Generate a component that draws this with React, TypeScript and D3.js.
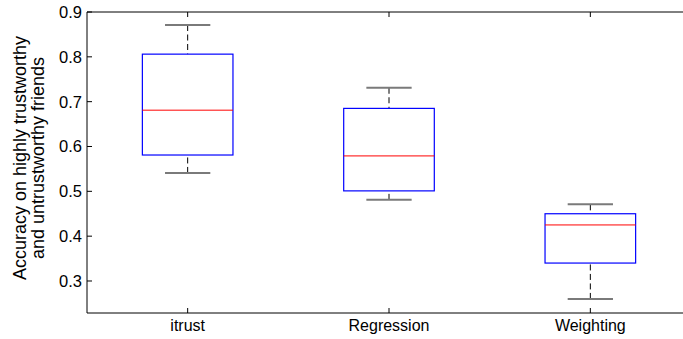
import React from "react";
import * as d3 from "d3";

const categories = ["itrust", "Regression", "Weighting"];
const lowerWhisker = [0.541, 0.481, 0.26];
const q1 = [0.581, 0.501, 0.34];
const medians = [0.681, 0.579, 0.425];
const q3 = [0.806, 0.685, 0.45];
const upperWhisker = [0.871, 0.731, 0.471];
const yTicks = [0.3, 0.4, 0.5, 0.6, 0.7, 0.8, 0.9];
const yLabelLines = ["Accuracy on highly trustworthy", "and untrustworthy friends"];

const W = 683;
const H = 339;
const font = "'Liberation Sans', Arial, Helvetica, sans-serif";

export default function App() {
  const x = d3.scaleLinear().domain([0.5, 3.5]).range([87, 691]);
  const y = d3.scaleLinear().domain([0.2286, 0.9]).range([313, 12]);
  const boxHalf = 0.225;
  const capHalf = 0.1125;
  const [x0, x1] = x.range();
  const [yb, yt] = y.range();
  return (
    <svg width={W} height={H} style={{ position: "absolute", left: 0, top: 0, background: "#fff" }}>
      {/* axes box */}
      <line x1={x0} x2={x1} y1={yb} y2={yb} stroke="#000" strokeWidth={1} />
      <line x1={x0} x2={x1} y1={yt} y2={yt} stroke="#000" strokeWidth={1} />
      <line x1={x0} x2={x0} y1={yt} y2={yb} stroke="#000" strokeWidth={1} />
      <line x1={x1} x2={x1} y1={yt} y2={yb} stroke="#000" strokeWidth={1} />
      {yTicks.map((t) => (
        <g key={t}>
          <line x1={x0} x2={x0 + 5} y1={y(t)} y2={y(t)} stroke="#000" />
          <line x1={x1} x2={x1 - 5} y1={y(t)} y2={y(t)} stroke="#000" />
          <text x={x0 - 5} y={y(t)} dy="0.36em" textAnchor="end" fontSize={16.5} fontFamily={font} fill="#000">
            {d3.format(".1f")(t)}
          </text>
        </g>
      ))}
      {categories.map((c, i) => {
        const cx = x(i + 1);
        return (
          <g key={c}>
            <line x1={cx} x2={cx} y1={yb} y2={yb - 5} stroke="#000" />
            <line x1={cx} x2={cx} y1={yt} y2={yt + 5} stroke="#000" />
            <text x={cx} y={331} textAnchor="middle" fontSize={16} fontFamily={font} fill="#000">
              {c}
            </text>
            {/* whiskers */}
            <line x1={cx} x2={cx} y1={y(upperWhisker[i])} y2={y(q3[i])} stroke="#000" strokeDasharray="6,3.5" />
            <line x1={cx} x2={cx} y1={y(lowerWhisker[i])} y2={y(q1[i])} stroke="#000" strokeDasharray="6,3.5" />
            <line
              x1={x(i + 1 - capHalf)}
              x2={x(i + 1 + capHalf)}
              y1={y(upperWhisker[i])}
              y2={y(upperWhisker[i])}
              stroke="#7a7a7a"
              strokeWidth={2}
            />
            <line
              x1={x(i + 1 - capHalf)}
              x2={x(i + 1 + capHalf)}
              y1={y(lowerWhisker[i])}
              y2={y(lowerWhisker[i])}
              stroke="#7a7a7a"
              strokeWidth={2}
            />
            {/* box */}
            <rect
              x={x(i + 1 - boxHalf)}
              y={y(q3[i])}
              width={x(i + 1 + boxHalf) - x(i + 1 - boxHalf)}
              height={y(q1[i]) - y(q3[i])}
              fill="none"
              stroke="#0000ff"
              strokeWidth={1.2}
            />
            <line
              x1={x(i + 1 - boxHalf)}
              x2={x(i + 1 + boxHalf)}
              y1={y(medians[i])}
              y2={y(medians[i])}
              stroke="#ff0000"
              strokeWidth={1}
            />
          </g>
        );
      })}
      <text transform={`translate(26,158) rotate(-90)`} textAnchor="middle" fontSize={18} fontFamily={font} fill="#000">
        <tspan x={0} dy={0}>{yLabelLines[0]}</tspan>
        <tspan x={0} dy={18.3}>{yLabelLines[1]}</tspan>
      </text>
    </svg>
  );
}
